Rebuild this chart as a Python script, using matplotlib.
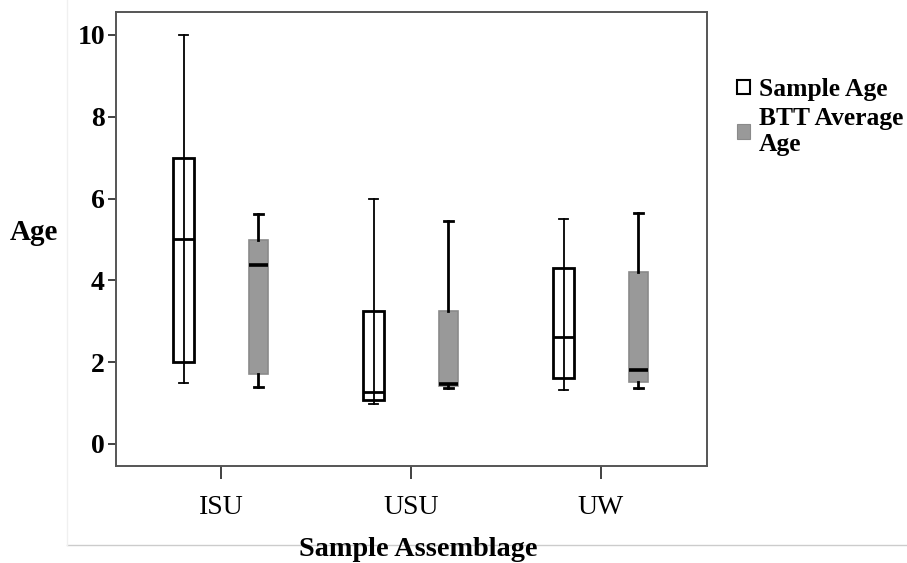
import matplotlib
matplotlib.use("Agg")
import matplotlib.pyplot as plt
from matplotlib.patches import Patch
from matplotlib.lines import Line2D

categories = ["ISU", "USU", "UW"]
sample_min = [1.50, 0.97, 1.32]
sample_q1 = [2.00, 1.07, 1.60]
sample_med = [5.00, 1.26, 2.61]
sample_q3 = [7.00, 3.26, 4.31]
sample_max = [10.00, 6.00, 5.50]

btt_min = [1.39, 1.36, 1.37]
btt_q1 = [1.71, 1.42, 1.51]
btt_med = [4.38, 1.47, 1.81]
btt_q3 = [4.99, 3.26, 4.20]
btt_max = [5.62, 5.45, 5.65]

yticks = [0, 2, 4, 6, 8, 10]
series_names = ["Sample Age", "BTT Average\nAge"]

plt.rcParams["font.family"] = ["Liberation Serif", "DejaVu Serif"]

fig = plt.figure(figsize=(9.07, 5.63), dpi=100)
ax = fig.add_axes([0.1279, 0.1723, 0.6516, 0.8064])

def stats(mins, q1s, meds, q3s, maxs):
    return [dict(whislo=a, q1=b, med=c, q3=d, whishi=e, fliers=[])
            for a, b, c, d, e in zip(mins, q1s, meds, q3s, maxs)]

pos = list(range(len(categories)))
off = 0.197
bw = 0.11
cw = 0.05

spos = [p - off for p in pos]
bpos = [p + off for p in pos]

ax.bxp(stats(sample_min, sample_q1, sample_med, sample_q3, sample_max),
       positions=spos, widths=bw, capwidths=cw,
       showfliers=False, patch_artist=True,
       boxprops=dict(facecolor="white", edgecolor="black", linewidth=2.0),
       medianprops=dict(color="black", linewidth=2.0),
       whiskerprops=dict(color="black", linewidth=1.3),
       capprops=dict(color="black", linewidth=1.3))
# whisker line visible through the white boxes
ax.vlines(spos, sample_q1, sample_q3, color="black", linewidth=1.3, zorder=2.5)

ax.bxp(stats(btt_min, btt_q1, btt_med, btt_q3, btt_max),
       positions=bpos, widths=bw * 0.95, capwidths=cw,
       showfliers=False, patch_artist=True,
       boxprops=dict(facecolor="#999999", edgecolor="#8a8a8a", linewidth=1.2),
       medianprops=dict(color="black", linewidth=2.6),
       whiskerprops=dict(color="black", linewidth=2.0),
       capprops=dict(color="black", linewidth=2.0))

ax.set_xlim(-0.553, 2.558)
ax.set_ylim(-0.54, 10.56)
ax.set_xticks(pos)
ax.set_xticklabels(categories, fontsize=20)
ax.set_yticks(yticks)
ax.set_yticklabels([str(t) for t in yticks], fontsize=20, fontweight="bold")
ax.tick_params(axis="y", length=6, width=1.3, pad=2, colors="#333333", labelcolor="black")
ax.tick_params(axis="x", length=9, width=1.3, pad=12, colors="#333333", labelcolor="black")
for s in ax.spines.values():
    s.set_color("#555555")
    s.set_linewidth(1.4)

fig.text(10 / 907, 1 - 232 / 563, "Age", fontsize=21, fontweight="bold",
         ha="left", va="center")
fig.text(418 / 907, 1 - 550 / 563, "Sample Assemblage", fontsize=20.3,
         fontweight="bold", ha="center", va="center")

# faint frame lines
fig.add_artist(Line2D([67 / 907, 1.0], [1 - 545 / 563, 1 - 545 / 563],
                      color="#cccccc", linewidth=1.0, zorder=0))
fig.add_artist(Line2D([67 / 907, 67 / 907], [1 - 545 / 563, 1.0],
                      color="#f0f0f0", linewidth=1.0, zorder=0))

handles = [Patch(facecolor="white", edgecolor="black", linewidth=1.5),
           Patch(facecolor="#999999", edgecolor="#8a8a8a", linewidth=0.8)]
fig.legend(handles, series_names, loc="upper left",
           bbox_to_anchor=(737 / 907, 1 - 78 / 563), frameon=False,
           prop=dict(size=18.4, weight="bold"), handlelength=0.5,
           handleheight=0.5, handletextpad=0.35, labelspacing=0.22,
           borderaxespad=0, borderpad=0)

fig.savefig("out.png", dpi=100)
